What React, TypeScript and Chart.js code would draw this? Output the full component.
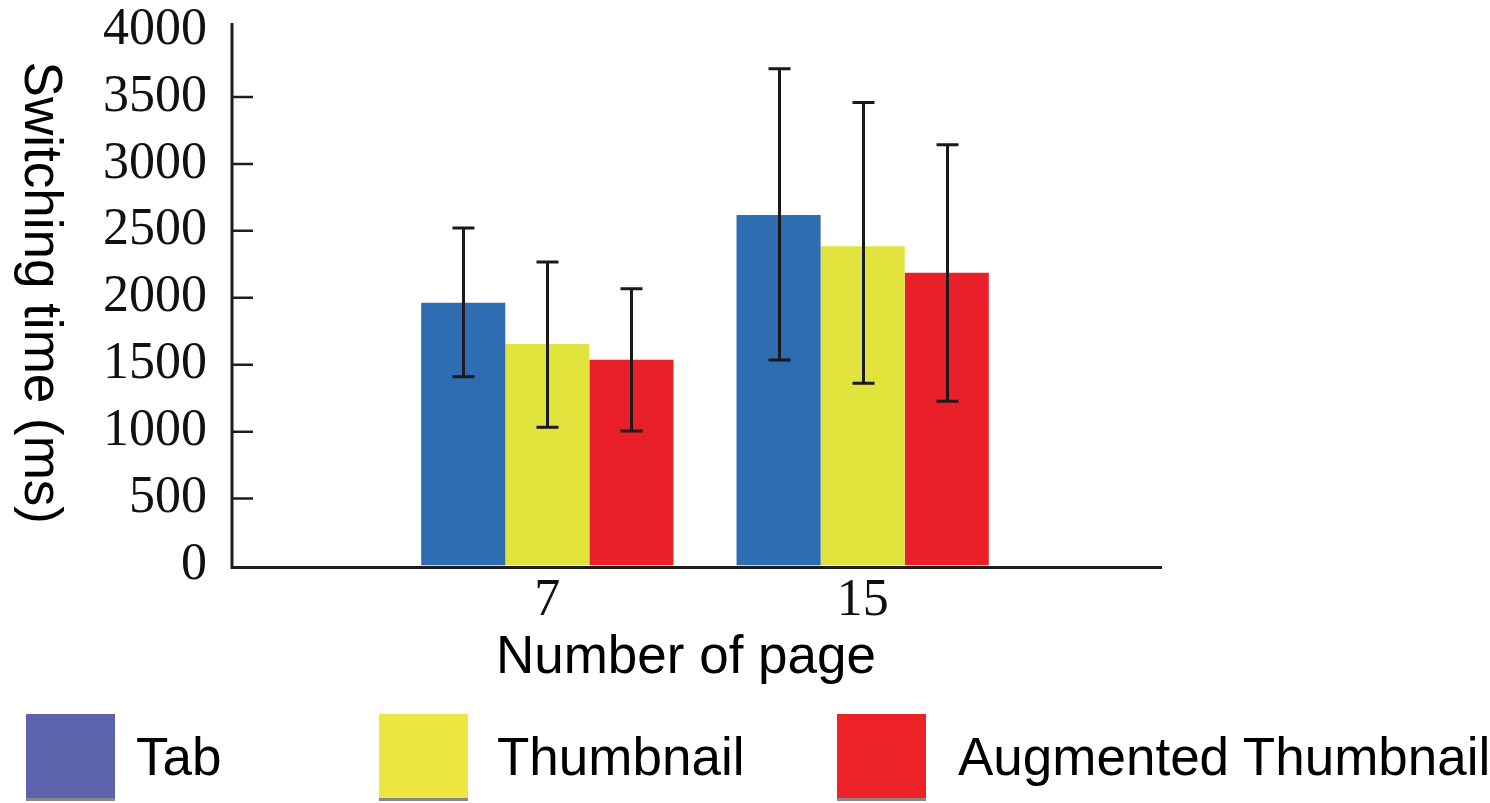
import React, { useEffect, useRef } from 'react';
import { Chart, registerables } from 'chart.js';

Chart.register(...registerables);

// ---- data ----
const categories = ['7', '15'];
const seriesNames = ['Tab', 'Thumbnail', 'Augmented Thumbnail'];
const tabValues = [1963, 2618];
const thumbnailValues = [1654, 2384];
const augmentedValues = [1537, 2187];
const tabErrLow = [1410, 1535];
const tabErrHigh = [2521, 3710];
const thumbnailErrLow = [1032, 1361];
const thumbnailErrHigh = [2267, 3459];
const augmentedErrLow = [1004, 1226];
const augmentedErrHigh = [2067, 3143];
const yMin = 0;
const yMax = 4000;
const yStep = 500;
const xTitle = 'Number of page';
const yTitle = 'Switching time (ms)';

// ---- styles ----
const barColors = ['#2f6db3', '#dfe33b', '#e92029'];
const legendColors = ['#5b63ad', '#ece83f', '#ec2227'];
const AXIS_COLOR = '#1e1e1e';
const SERIF = "'Liberation Serif', 'Times New Roman', serif";
const SANS = "'Liberation Sans', Arial, sans-serif";

const errLows = [tabErrLow, thumbnailErrLow, augmentedErrLow];
const errHighs = [tabErrHigh, thumbnailErrHigh, augmentedErrHigh];

const decorPlugin = {
  id: 'decor',
  afterDatasetsDraw(chart: any) {
    const { ctx, chartArea, scales } = chart;
    const y = scales.y;
    const left = chartArea.left;
    const zeroY = y.getPixelForValue(0);
    ctx.save();
    // error bars
    ctx.strokeStyle = '#1a1a1a';
    ctx.lineWidth = 3;
    chart.data.datasets.forEach((ds: any, i: number) => {
      const meta = chart.getDatasetMeta(i);
      meta.data.forEach((bar: any, j: number) => {
        const v = ds.data[j];
        if (v == null) return;
        const k = j - 1;
        const yHi = y.getPixelForValue(errHighs[i][k]);
        const yLo = y.getPixelForValue(errLows[i][k]);
        const cx = Math.round(bar.x) + 0.5;
        ctx.beginPath();
        ctx.moveTo(cx, yHi);
        ctx.lineTo(cx, yLo);
        ctx.moveTo(cx - 11, yHi);
        ctx.lineTo(cx + 11, yHi);
        ctx.moveTo(cx - 11, yLo);
        ctx.lineTo(cx + 11, yLo);
        ctx.stroke();
      });
    });
    // axes
    ctx.strokeStyle = AXIS_COLOR;
    ctx.lineWidth = 3;
    ctx.beginPath();
    ctx.moveTo(left, y.getPixelForValue(yMax) - 7);
    ctx.lineTo(left, zeroY + 3.5);
    ctx.moveTo(left - 1.5, zeroY + 2);
    ctx.lineTo(chartArea.right - 16, zeroY + 2);
    ctx.stroke();
    // inward ticks
    ctx.lineWidth = 2.5;
    ctx.beginPath();
    for (let v = yMin + yStep; v < yMax; v += yStep) {
      const py = y.getPixelForValue(v);
      ctx.moveTo(left, py);
      ctx.lineTo(left + 21, py);
    }
    ctx.stroke();
    // titles
    ctx.fillStyle = '#000';
    ctx.font = `53px ${SANS}`;
    ctx.textAlign = 'center';
    ctx.textBaseline = 'alphabetic';
    ctx.fillText(xTitle, 686, 673);
    ctx.translate(25, (chartArea.top + chartArea.bottom) / 2 - 5);
    ctx.rotate(Math.PI / 2);
    ctx.fillText(yTitle, 0, 0);
    ctx.restore();
  },
};

export default function App() {
  const canvasRef = useRef<HTMLCanvasElement | null>(null);

  useEffect(() => {
    document.body.style.margin = '0';
    const canvas = canvasRef.current;
    if (!canvas) return;
    const labels = ['', ...categories, ''];
    const seriesValues = [tabValues, thumbnailValues, augmentedValues];
    const chart = new Chart(canvas, {
      type: 'bar',
      data: {
        labels,
        datasets: seriesNames.map((name, i) => ({
          label: name,
          data: [null, ...seriesValues[i], null],
          backgroundColor: barColors[i],
          borderWidth: 0,
          categoryPercentage: 0.8,
          barPercentage: 1.0,
        })),
      },
      options: {
        responsive: false,
        animation: false,
        events: [],
        devicePixelRatio: 1,
        layout: { padding: { left: 0, right: 312, top: 30, bottom: 0 } },
        plugins: { legend: { display: false }, tooltip: { enabled: false } },
        scales: {
          x: {
            type: 'category',
            offset: false,
            grid: { display: false, drawTicks: false },
            border: { display: false },
            ticks: {
              color: '#111',
              font: { family: SERIF, size: 52, lineHeight: 1 },
              padding: 10,
              autoSkip: false,
              maxRotation: 0,
            },
            afterFit: (s: any) => {
              s.height = 237.5;
              s.paddingLeft = 0;
              s.paddingRight = 0;
            },
          },
          y: {
            min: yMin,
            max: yMax,
            grid: { display: false, drawTicks: false },
            border: { display: false },
            ticks: {
              stepSize: yStep,
              color: '#111',
              font: { family: SERIF, size: 52, lineHeight: 1 },
              padding: 25,
              callback: (v: any) => String(v),
            },
            afterFit: (s: any) => {
              s.width = 232;
              s.paddingTop = 0;
              s.paddingBottom = 0;
            },
          },
        },
      },
      plugins: [decorPlugin],
    } as any);
    return () => chart.destroy();
  }, []);

  const boxLefts = [26, 379, 837];
  const textLefts = [136, 497, 958];

  return (
    <div style={{ position: 'fixed', left: 0, top: 0, width: 1490, height: 803, background: '#fff' }}>
      <canvas ref={canvasRef} width={1490} height={803} style={{ display: 'block' }} />
      {seriesNames.map((name, i) => (
        <React.Fragment key={name}>
          <div
            style={{
              position: 'absolute',
              left: boxLefts[i],
              top: 714,
              width: 89,
              height: 84,
              background: legendColors[i],
              borderBottom: '3px solid #888',
            }}
          />
          <div
            style={{
              position: 'absolute',
              left: textLefts[i],
              top: 730,
              fontFamily: SANS,
              fontSize: 53,
              lineHeight: '53px',
              color: '#000',
              whiteSpace: 'nowrap',
            }}
          >
            {name}
          </div>
        </React.Fragment>
      ))}
    </div>
  );
}
